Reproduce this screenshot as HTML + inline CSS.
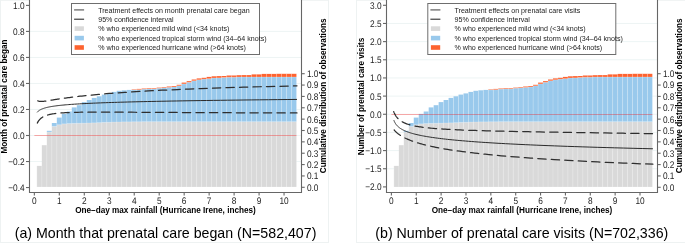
<!DOCTYPE html>
<html><head><meta charset="utf-8"><title>Figure</title>
<style>
svg{will-change:transform;}
html,body{margin:0;padding:0;background:#ffffff;}
body{width:685px;height:243px;overflow:hidden;position:relative;font-family:"Liberation Sans", sans-serif;}
</style></head><body>
<svg width="685" height="243" viewBox="0 0 685 243" style="position:absolute;left:0;top:0" font-family='"Liberation Sans", sans-serif'><rect x="0" y="0" width="685" height="243" fill="#ffffff"/><g stroke="#eef2f2" stroke-width="1" fill="none"><line x1="0.5" y1="0" x2="0.5" y2="243"/><line x1="328.5" y1="0" x2="328.5" y2="243"/><line x1="356.5" y1="0" x2="356.5" y2="243"/><line x1="0" y1="242.5" x2="329" y2="242.5"/><line x1="356" y1="242.5" x2="685" y2="242.5"/><line x1="0" y1="0.3" x2="29" y2="0.3"/><line x1="302" y1="0.3" x2="329" y2="0.3"/><line x1="356" y1="0.3" x2="386" y2="0.3"/><line x1="658" y1="0.3" x2="685" y2="0.3"/></g><line x1="30.0" y1="31.42" x2="301.0" y2="31.42" stroke="#e9f1f1" stroke-width="0.8"/><line x1="30.0" y1="57.44" x2="301.0" y2="57.44" stroke="#e9f1f1" stroke-width="0.8"/><line x1="30.0" y1="83.46" x2="301.0" y2="83.46" stroke="#e9f1f1" stroke-width="0.8"/><line x1="30.0" y1="109.48" x2="301.0" y2="109.48" stroke="#e9f1f1" stroke-width="0.8"/><line x1="30.0" y1="135.50" x2="301.0" y2="135.50" stroke="#e9f1f1" stroke-width="0.8"/><line x1="30.0" y1="161.52" x2="301.0" y2="161.52" stroke="#e9f1f1" stroke-width="0.8"/><rect x="36.85" y="165.90" width="4.994" height="21.00" fill="#d9d9d9"/><rect x="41.84" y="145.20" width="4.994" height="41.70" fill="#d9d9d9"/><rect x="46.84" y="132.10" width="4.994" height="54.80" fill="#d9d9d9"/><rect x="46.84" y="130.80" width="4.994" height="1.30" fill="#99c9ec"/><rect x="51.83" y="126.40" width="4.994" height="60.50" fill="#d9d9d9"/><rect x="51.83" y="123.00" width="4.994" height="3.40" fill="#99c9ec"/><rect x="56.82" y="124.80" width="4.994" height="62.10" fill="#d9d9d9"/><rect x="56.82" y="117.60" width="4.994" height="7.20" fill="#99c9ec"/><rect x="61.82" y="123.90" width="4.994" height="63.00" fill="#d9d9d9"/><rect x="61.82" y="113.90" width="4.994" height="10.00" fill="#99c9ec"/><rect x="66.81" y="123.60" width="4.994" height="63.30" fill="#d9d9d9"/><rect x="66.81" y="111.50" width="4.994" height="12.10" fill="#99c9ec"/><rect x="71.81" y="123.40" width="4.994" height="63.50" fill="#d9d9d9"/><rect x="71.81" y="107.40" width="4.994" height="16.00" fill="#99c9ec"/><rect x="76.80" y="123.30" width="4.994" height="63.60" fill="#d9d9d9"/><rect x="76.80" y="105.20" width="4.994" height="18.10" fill="#99c9ec"/><rect x="81.79" y="123.20" width="4.994" height="63.70" fill="#d9d9d9"/><rect x="81.79" y="102.10" width="4.994" height="21.10" fill="#99c9ec"/><rect x="86.79" y="123.00" width="4.994" height="63.90" fill="#d9d9d9"/><rect x="86.79" y="100.00" width="4.994" height="23.00" fill="#99c9ec"/><rect x="91.78" y="122.90" width="4.994" height="64.00" fill="#d9d9d9"/><rect x="91.78" y="97.90" width="4.994" height="25.00" fill="#99c9ec"/><rect x="96.78" y="122.70" width="4.994" height="64.20" fill="#d9d9d9"/><rect x="96.78" y="96.30" width="4.994" height="26.40" fill="#99c9ec"/><rect x="101.77" y="122.40" width="4.994" height="64.50" fill="#d9d9d9"/><rect x="101.77" y="94.60" width="4.994" height="27.80" fill="#99c9ec"/><rect x="106.76" y="122.30" width="4.994" height="64.60" fill="#d9d9d9"/><rect x="106.76" y="93.40" width="4.994" height="28.90" fill="#99c9ec"/><rect x="111.76" y="122.10" width="4.994" height="64.80" fill="#d9d9d9"/><rect x="111.76" y="91.90" width="4.994" height="30.20" fill="#99c9ec"/><rect x="116.75" y="122.00" width="4.994" height="64.90" fill="#d9d9d9"/><rect x="116.75" y="90.80" width="4.994" height="31.20" fill="#99c9ec"/><rect x="121.75" y="121.90" width="4.994" height="65.00" fill="#d9d9d9"/><rect x="121.75" y="90.30" width="4.994" height="31.60" fill="#99c9ec"/><rect x="126.74" y="121.90" width="4.994" height="65.00" fill="#d9d9d9"/><rect x="126.74" y="89.90" width="4.994" height="32.00" fill="#99c9ec"/><rect x="131.73" y="121.80" width="4.994" height="65.10" fill="#d9d9d9"/><rect x="131.73" y="89.90" width="4.994" height="31.90" fill="#99c9ec"/><rect x="131.73" y="89.40" width="4.994" height="0.50" fill="#fd6330"/><rect x="136.73" y="121.80" width="4.994" height="65.10" fill="#d9d9d9"/><rect x="136.73" y="89.70" width="4.994" height="32.10" fill="#99c9ec"/><rect x="136.73" y="88.90" width="4.994" height="0.80" fill="#fd6330"/><rect x="141.72" y="121.70" width="4.994" height="65.20" fill="#d9d9d9"/><rect x="141.72" y="89.10" width="4.994" height="32.60" fill="#99c9ec"/><rect x="141.72" y="88.50" width="4.994" height="0.60" fill="#fd6330"/><rect x="146.72" y="121.70" width="4.994" height="65.20" fill="#d9d9d9"/><rect x="146.72" y="88.90" width="4.994" height="32.80" fill="#99c9ec"/><rect x="146.72" y="88.20" width="4.994" height="0.70" fill="#fd6330"/><rect x="151.71" y="121.70" width="4.994" height="65.20" fill="#d9d9d9"/><rect x="151.71" y="88.90" width="4.994" height="32.80" fill="#99c9ec"/><rect x="151.71" y="88.20" width="4.994" height="0.70" fill="#fd6330"/><rect x="156.70" y="121.70" width="4.994" height="65.20" fill="#d9d9d9"/><rect x="156.70" y="88.20" width="4.994" height="33.50" fill="#99c9ec"/><rect x="156.70" y="87.60" width="4.994" height="0.60" fill="#fd6330"/><rect x="161.70" y="121.70" width="4.994" height="65.20" fill="#d9d9d9"/><rect x="161.70" y="87.80" width="4.994" height="33.90" fill="#99c9ec"/><rect x="161.70" y="87.10" width="4.994" height="0.70" fill="#fd6330"/><rect x="166.69" y="121.70" width="4.994" height="65.20" fill="#d9d9d9"/><rect x="166.69" y="87.40" width="4.994" height="34.30" fill="#99c9ec"/><rect x="166.69" y="86.50" width="4.994" height="0.90" fill="#fd6330"/><rect x="171.68" y="121.70" width="4.994" height="65.20" fill="#d9d9d9"/><rect x="171.68" y="87.00" width="4.994" height="34.70" fill="#99c9ec"/><rect x="171.68" y="86.10" width="4.994" height="0.90" fill="#fd6330"/><rect x="176.68" y="121.70" width="4.994" height="65.20" fill="#d9d9d9"/><rect x="176.68" y="85.80" width="4.994" height="35.90" fill="#99c9ec"/><rect x="176.68" y="84.80" width="4.994" height="1.00" fill="#fd6330"/><rect x="181.67" y="121.70" width="4.994" height="65.20" fill="#d9d9d9"/><rect x="181.67" y="83.90" width="4.994" height="37.80" fill="#99c9ec"/><rect x="181.67" y="82.60" width="4.994" height="1.30" fill="#fd6330"/><rect x="186.67" y="121.70" width="4.994" height="65.20" fill="#d9d9d9"/><rect x="186.67" y="82.30" width="4.994" height="39.40" fill="#99c9ec"/><rect x="186.67" y="81.10" width="4.994" height="1.20" fill="#fd6330"/><rect x="191.66" y="121.70" width="4.994" height="65.20" fill="#d9d9d9"/><rect x="191.66" y="80.80" width="4.994" height="40.90" fill="#99c9ec"/><rect x="191.66" y="79.50" width="4.994" height="1.30" fill="#fd6330"/><rect x="196.66" y="121.70" width="4.994" height="65.20" fill="#d9d9d9"/><rect x="196.66" y="79.80" width="4.994" height="41.90" fill="#99c9ec"/><rect x="196.66" y="78.40" width="4.994" height="1.40" fill="#fd6330"/><rect x="201.65" y="121.70" width="4.994" height="65.20" fill="#d9d9d9"/><rect x="201.65" y="79.10" width="4.994" height="42.60" fill="#99c9ec"/><rect x="201.65" y="77.80" width="4.994" height="1.30" fill="#fd6330"/><rect x="206.64" y="121.70" width="4.994" height="65.20" fill="#d9d9d9"/><rect x="206.64" y="78.70" width="4.994" height="43.00" fill="#99c9ec"/><rect x="206.64" y="76.90" width="4.994" height="1.80" fill="#fd6330"/><rect x="211.64" y="121.70" width="4.994" height="65.20" fill="#d9d9d9"/><rect x="211.64" y="78.00" width="4.994" height="43.70" fill="#99c9ec"/><rect x="211.64" y="76.30" width="4.994" height="1.70" fill="#fd6330"/><rect x="216.63" y="121.70" width="4.994" height="65.20" fill="#d9d9d9"/><rect x="216.63" y="77.90" width="4.994" height="43.80" fill="#99c9ec"/><rect x="216.63" y="76.10" width="4.994" height="1.80" fill="#fd6330"/><rect x="221.62" y="121.70" width="4.994" height="65.20" fill="#d9d9d9"/><rect x="221.62" y="77.50" width="4.994" height="44.20" fill="#99c9ec"/><rect x="221.62" y="76.00" width="4.994" height="1.50" fill="#fd6330"/><rect x="226.62" y="121.70" width="4.994" height="65.20" fill="#d9d9d9"/><rect x="226.62" y="77.20" width="4.994" height="44.50" fill="#99c9ec"/><rect x="226.62" y="75.50" width="4.994" height="1.70" fill="#fd6330"/><rect x="231.61" y="121.70" width="4.994" height="65.20" fill="#d9d9d9"/><rect x="231.61" y="77.20" width="4.994" height="44.50" fill="#99c9ec"/><rect x="231.61" y="75.50" width="4.994" height="1.70" fill="#fd6330"/><rect x="236.61" y="121.70" width="4.994" height="65.20" fill="#d9d9d9"/><rect x="236.61" y="77.00" width="4.994" height="44.70" fill="#99c9ec"/><rect x="236.61" y="75.20" width="4.994" height="1.80" fill="#fd6330"/><rect x="241.60" y="121.70" width="4.994" height="65.20" fill="#d9d9d9"/><rect x="241.60" y="77.00" width="4.994" height="44.70" fill="#99c9ec"/><rect x="241.60" y="75.10" width="4.994" height="1.90" fill="#fd6330"/><rect x="246.59" y="121.70" width="4.994" height="65.20" fill="#d9d9d9"/><rect x="246.59" y="77.00" width="4.994" height="44.70" fill="#99c9ec"/><rect x="246.59" y="75.10" width="4.994" height="1.90" fill="#fd6330"/><rect x="251.59" y="121.70" width="4.994" height="65.20" fill="#d9d9d9"/><rect x="251.59" y="77.00" width="4.994" height="44.70" fill="#99c9ec"/><rect x="251.59" y="74.40" width="4.994" height="2.60" fill="#fd6330"/><rect x="256.58" y="121.70" width="4.994" height="65.20" fill="#d9d9d9"/><rect x="256.58" y="77.00" width="4.994" height="44.70" fill="#99c9ec"/><rect x="256.58" y="74.40" width="4.994" height="2.60" fill="#fd6330"/><rect x="261.58" y="121.70" width="4.994" height="65.20" fill="#d9d9d9"/><rect x="261.58" y="77.00" width="4.994" height="44.70" fill="#99c9ec"/><rect x="261.58" y="73.90" width="4.994" height="3.10" fill="#fd6330"/><rect x="266.57" y="121.70" width="4.994" height="65.20" fill="#d9d9d9"/><rect x="266.57" y="77.00" width="4.994" height="44.70" fill="#99c9ec"/><rect x="266.57" y="73.90" width="4.994" height="3.10" fill="#fd6330"/><rect x="271.56" y="121.70" width="4.994" height="65.20" fill="#d9d9d9"/><rect x="271.56" y="77.00" width="4.994" height="44.70" fill="#99c9ec"/><rect x="271.56" y="73.90" width="4.994" height="3.10" fill="#fd6330"/><rect x="276.56" y="121.70" width="4.994" height="65.20" fill="#d9d9d9"/><rect x="276.56" y="77.00" width="4.994" height="44.70" fill="#99c9ec"/><rect x="276.56" y="73.80" width="4.994" height="3.20" fill="#fd6330"/><rect x="281.55" y="121.70" width="4.994" height="65.20" fill="#d9d9d9"/><rect x="281.55" y="77.00" width="4.994" height="44.70" fill="#99c9ec"/><rect x="281.55" y="73.80" width="4.994" height="3.20" fill="#fd6330"/><rect x="286.55" y="121.70" width="4.994" height="65.20" fill="#d9d9d9"/><rect x="286.55" y="77.00" width="4.994" height="44.70" fill="#99c9ec"/><rect x="286.55" y="73.80" width="4.994" height="3.20" fill="#fd6330"/><rect x="291.54" y="121.70" width="4.994" height="65.20" fill="#d9d9d9"/><rect x="291.54" y="77.00" width="4.994" height="44.70" fill="#99c9ec"/><rect x="291.54" y="73.80" width="4.994" height="3.20" fill="#fd6330"/><g stroke="#ffffff" stroke-opacity="0.35" stroke-width="0.6"><line x1="36.85" y1="165.90" x2="36.85" y2="186.90"/><line x1="41.84" y1="165.90" x2="41.84" y2="186.90"/><line x1="46.84" y1="145.20" x2="46.84" y2="186.90"/><line x1="51.83" y1="130.80" x2="51.83" y2="186.90"/><line x1="56.82" y1="123.00" x2="56.82" y2="186.90"/><line x1="61.82" y1="117.60" x2="61.82" y2="186.90"/><line x1="66.81" y1="113.90" x2="66.81" y2="186.90"/><line x1="71.81" y1="111.50" x2="71.81" y2="186.90"/><line x1="76.80" y1="107.40" x2="76.80" y2="186.90"/><line x1="81.79" y1="105.20" x2="81.79" y2="186.90"/><line x1="86.79" y1="102.10" x2="86.79" y2="186.90"/><line x1="91.78" y1="100.00" x2="91.78" y2="186.90"/><line x1="96.78" y1="97.90" x2="96.78" y2="186.90"/><line x1="101.77" y1="96.30" x2="101.77" y2="186.90"/><line x1="106.76" y1="94.60" x2="106.76" y2="186.90"/><line x1="111.76" y1="93.40" x2="111.76" y2="186.90"/><line x1="116.75" y1="91.90" x2="116.75" y2="186.90"/><line x1="121.75" y1="90.80" x2="121.75" y2="186.90"/><line x1="126.74" y1="90.30" x2="126.74" y2="186.90"/><line x1="131.73" y1="89.90" x2="131.73" y2="186.90"/><line x1="136.73" y1="89.40" x2="136.73" y2="186.90"/><line x1="141.72" y1="88.90" x2="141.72" y2="186.90"/><line x1="146.72" y1="88.50" x2="146.72" y2="186.90"/><line x1="151.71" y1="88.20" x2="151.71" y2="186.90"/><line x1="156.70" y1="88.20" x2="156.70" y2="186.90"/><line x1="161.70" y1="87.60" x2="161.70" y2="186.90"/><line x1="166.69" y1="87.10" x2="166.69" y2="186.90"/><line x1="171.68" y1="86.50" x2="171.68" y2="186.90"/><line x1="176.68" y1="86.10" x2="176.68" y2="186.90"/><line x1="181.67" y1="84.80" x2="181.67" y2="186.90"/><line x1="186.67" y1="82.60" x2="186.67" y2="186.90"/><line x1="191.66" y1="81.10" x2="191.66" y2="186.90"/><line x1="196.66" y1="79.50" x2="196.66" y2="186.90"/><line x1="201.65" y1="78.40" x2="201.65" y2="186.90"/><line x1="206.64" y1="77.80" x2="206.64" y2="186.90"/><line x1="211.64" y1="76.90" x2="211.64" y2="186.90"/><line x1="216.63" y1="76.30" x2="216.63" y2="186.90"/><line x1="221.62" y1="76.10" x2="221.62" y2="186.90"/><line x1="226.62" y1="76.00" x2="226.62" y2="186.90"/><line x1="231.61" y1="75.50" x2="231.61" y2="186.90"/><line x1="236.61" y1="75.50" x2="236.61" y2="186.90"/><line x1="241.60" y1="75.20" x2="241.60" y2="186.90"/><line x1="246.59" y1="75.10" x2="246.59" y2="186.90"/><line x1="251.59" y1="75.10" x2="251.59" y2="186.90"/><line x1="256.58" y1="74.40" x2="256.58" y2="186.90"/><line x1="261.58" y1="74.40" x2="261.58" y2="186.90"/><line x1="266.57" y1="73.90" x2="266.57" y2="186.90"/><line x1="271.56" y1="73.90" x2="271.56" y2="186.90"/><line x1="276.56" y1="73.90" x2="276.56" y2="186.90"/><line x1="281.55" y1="73.80" x2="281.55" y2="186.90"/><line x1="286.55" y1="73.80" x2="286.55" y2="186.90"/><line x1="291.54" y1="73.80" x2="291.54" y2="186.90"/><line x1="296.54" y1="73.80" x2="296.54" y2="186.90"/><line x1="46.84" y1="132.10" x2="51.83" y2="132.10"/><line x1="51.83" y1="126.40" x2="56.82" y2="126.40"/><line x1="56.82" y1="124.80" x2="61.82" y2="124.80"/><line x1="61.82" y1="123.90" x2="66.81" y2="123.90"/><line x1="66.81" y1="123.60" x2="71.81" y2="123.60"/><line x1="71.81" y1="123.40" x2="76.80" y2="123.40"/><line x1="76.80" y1="123.30" x2="81.79" y2="123.30"/><line x1="81.79" y1="123.20" x2="86.79" y2="123.20"/><line x1="86.79" y1="123.00" x2="91.78" y2="123.00"/><line x1="91.78" y1="122.90" x2="96.78" y2="122.90"/><line x1="96.78" y1="122.70" x2="101.77" y2="122.70"/><line x1="101.77" y1="122.40" x2="106.76" y2="122.40"/><line x1="106.76" y1="122.30" x2="111.76" y2="122.30"/><line x1="111.76" y1="122.10" x2="116.75" y2="122.10"/><line x1="116.75" y1="122.00" x2="121.75" y2="122.00"/><line x1="121.75" y1="121.90" x2="126.74" y2="121.90"/><line x1="126.74" y1="121.90" x2="131.73" y2="121.90"/><line x1="131.73" y1="121.80" x2="136.73" y2="121.80"/><line x1="131.73" y1="89.90" x2="136.73" y2="89.90"/><line x1="136.73" y1="121.80" x2="141.72" y2="121.80"/><line x1="136.73" y1="89.70" x2="141.72" y2="89.70"/><line x1="141.72" y1="121.70" x2="146.72" y2="121.70"/><line x1="141.72" y1="89.10" x2="146.72" y2="89.10"/><line x1="146.72" y1="121.70" x2="151.71" y2="121.70"/><line x1="146.72" y1="88.90" x2="151.71" y2="88.90"/><line x1="151.71" y1="121.70" x2="156.70" y2="121.70"/><line x1="151.71" y1="88.90" x2="156.70" y2="88.90"/><line x1="156.70" y1="121.70" x2="161.70" y2="121.70"/><line x1="156.70" y1="88.20" x2="161.70" y2="88.20"/><line x1="161.70" y1="121.70" x2="166.69" y2="121.70"/><line x1="161.70" y1="87.80" x2="166.69" y2="87.80"/><line x1="166.69" y1="121.70" x2="171.68" y2="121.70"/><line x1="166.69" y1="87.40" x2="171.68" y2="87.40"/><line x1="171.68" y1="121.70" x2="176.68" y2="121.70"/><line x1="171.68" y1="87.00" x2="176.68" y2="87.00"/><line x1="176.68" y1="121.70" x2="181.67" y2="121.70"/><line x1="176.68" y1="85.80" x2="181.67" y2="85.80"/><line x1="181.67" y1="121.70" x2="186.67" y2="121.70"/><line x1="181.67" y1="83.90" x2="186.67" y2="83.90"/><line x1="186.67" y1="121.70" x2="191.66" y2="121.70"/><line x1="186.67" y1="82.30" x2="191.66" y2="82.30"/><line x1="191.66" y1="121.70" x2="196.65" y2="121.70"/><line x1="191.66" y1="80.80" x2="196.65" y2="80.80"/><line x1="196.66" y1="121.70" x2="201.65" y2="121.70"/><line x1="196.66" y1="79.80" x2="201.65" y2="79.80"/><line x1="201.65" y1="121.70" x2="206.64" y2="121.70"/><line x1="201.65" y1="79.10" x2="206.64" y2="79.10"/><line x1="206.64" y1="121.70" x2="211.64" y2="121.70"/><line x1="206.64" y1="78.70" x2="211.64" y2="78.70"/><line x1="211.64" y1="121.70" x2="216.63" y2="121.70"/><line x1="211.64" y1="78.00" x2="216.63" y2="78.00"/><line x1="216.63" y1="121.70" x2="221.62" y2="121.70"/><line x1="216.63" y1="77.90" x2="221.62" y2="77.90"/><line x1="221.62" y1="121.70" x2="226.62" y2="121.70"/><line x1="221.62" y1="77.50" x2="226.62" y2="77.50"/><line x1="226.62" y1="121.70" x2="231.61" y2="121.70"/><line x1="226.62" y1="77.20" x2="231.61" y2="77.20"/><line x1="231.61" y1="121.70" x2="236.61" y2="121.70"/><line x1="231.61" y1="77.20" x2="236.61" y2="77.20"/><line x1="236.61" y1="121.70" x2="241.60" y2="121.70"/><line x1="236.61" y1="77.00" x2="241.60" y2="77.00"/><line x1="241.60" y1="121.70" x2="246.59" y2="121.70"/><line x1="241.60" y1="77.00" x2="246.59" y2="77.00"/><line x1="246.59" y1="121.70" x2="251.59" y2="121.70"/><line x1="246.59" y1="77.00" x2="251.59" y2="77.00"/><line x1="251.59" y1="121.70" x2="256.58" y2="121.70"/><line x1="251.59" y1="77.00" x2="256.58" y2="77.00"/><line x1="256.58" y1="121.70" x2="261.58" y2="121.70"/><line x1="256.58" y1="77.00" x2="261.58" y2="77.00"/><line x1="261.58" y1="121.70" x2="266.57" y2="121.70"/><line x1="261.58" y1="77.00" x2="266.57" y2="77.00"/><line x1="266.57" y1="121.70" x2="271.57" y2="121.70"/><line x1="266.57" y1="77.00" x2="271.57" y2="77.00"/><line x1="271.56" y1="121.70" x2="276.56" y2="121.70"/><line x1="271.56" y1="77.00" x2="276.56" y2="77.00"/><line x1="276.56" y1="121.70" x2="281.55" y2="121.70"/><line x1="276.56" y1="77.00" x2="281.55" y2="77.00"/><line x1="281.55" y1="121.70" x2="286.55" y2="121.70"/><line x1="281.55" y1="77.00" x2="286.55" y2="77.00"/><line x1="286.55" y1="121.70" x2="291.54" y2="121.70"/><line x1="286.55" y1="77.00" x2="291.54" y2="77.00"/><line x1="291.54" y1="121.70" x2="296.54" y2="121.70"/><line x1="291.54" y1="77.00" x2="296.54" y2="77.00"/></g><line x1="34.35" y1="135.50" x2="296.54" y2="135.50" stroke="#ff0000" stroke-opacity="0.32" stroke-width="1.0"/><path d="M37.20,100.48 L37.31,100.56 L37.43,100.63 L37.54,100.71 L37.67,100.78 L37.80,100.85 L37.93,100.91 L38.07,100.97 L38.21,101.03 L38.36,101.08 L38.52,101.13 L38.68,101.18 L38.85,101.22 L39.02,101.26 L39.20,101.29 L39.39,101.33 L39.59,101.35 L39.79,101.38 L40.00,101.40 L40.22,101.41 L40.45,101.43 L40.68,101.43 L40.93,101.44 L41.18,101.44 L41.45,101.43 L41.72,101.42 L42.01,101.41 L42.30,101.40 L42.61,101.37 L42.93,101.35 L43.26,101.32 L43.61,101.29 L43.97,101.25 L44.34,101.21 L44.73,101.16 L45.13,101.11 L45.55,101.06 L45.98,101.00 L46.43,100.93 L46.90,100.87 L47.39,100.80 L47.89,100.72 L48.42,100.64 L48.96,100.56 L49.53,100.47 L50.12,100.38 L50.73,100.28 L51.36,100.18 L52.02,100.07 L52.71,99.97 L53.42,99.85 L54.16,99.74 L54.92,99.62 L55.72,99.49 L56.55,99.36 L57.41,99.23 L58.30,99.09 L59.23,98.95 L60.19,98.81 L61.19,98.66 L62.23,98.51 L63.32,98.36 L64.44,98.20 L65.60,98.04 L66.81,97.87 L68.07,97.70 L69.38,97.53 L70.74,97.35 L72.15,97.17 L73.61,96.99 L75.13,96.81 L76.71,96.62 L78.35,96.43 L80.06,96.24 L81.83,96.04 L83.67,95.84 L85.58,95.64 L87.56,95.43 L89.62,95.23 L91.77,95.02 L93.99,94.81 L96.30,94.59 L98.70,94.38 L101.19,94.16 L103.78,93.94 L106.47,93.71 L109.27,93.49 L112.17,93.27 L115.19,93.04 L118.32,92.81 L121.57,92.58 L124.95,92.35 L128.46,92.12 L132.11,91.88 L135.90,91.65 L139.83,91.42 L143.92,91.18 L148.16,90.94 L152.57,90.71 L157.15,90.47 L161.91,90.23 L166.85,90.00 L171.99,89.76 L177.32,89.52 L182.86,89.29 L188.61,89.05 L194.59,88.81 L200.80,88.58 L207.24,88.35 L213.94,88.11 L220.90,87.88 L228.13,87.65 L235.64,87.42 L243.44,87.20 L251.54,86.97 L259.95,86.75 L268.69,86.52 L277.77,86.31 L287.20,86.09 L297.00,85.87" fill="none" stroke="#2e2e2e" stroke-width="1.25" stroke-dasharray="8.3 5.2" stroke-dashoffset="-0.6" stroke-linecap="round"/><path d="M37.10,123.62 L37.21,123.38 L37.32,123.13 L37.43,122.89 L37.56,122.64 L37.68,122.40 L37.81,122.16 L37.95,121.91 L38.09,121.67 L38.23,121.43 L38.38,121.20 L38.54,120.96 L38.71,120.73 L38.88,120.49 L39.05,120.26 L39.24,120.03 L39.43,119.81 L39.62,119.58 L39.83,119.36 L40.04,119.14 L40.27,118.92 L40.50,118.71 L40.74,118.49 L40.99,118.28 L41.25,118.08 L41.52,117.87 L41.80,117.67 L42.09,117.47 L42.39,117.28 L42.70,117.09 L43.03,116.90 L43.37,116.71 L43.72,116.53 L44.09,116.35 L44.47,116.18 L44.86,116.00 L45.27,115.84 L45.70,115.67 L46.14,115.51 L46.60,115.35 L47.08,115.20 L47.58,115.05 L48.10,114.90 L48.63,114.76 L49.19,114.62 L49.77,114.48 L50.37,114.35 L51.00,114.22 L51.65,114.10 L52.32,113.98 L53.03,113.87 L53.76,113.75 L54.51,113.65 L55.30,113.54 L56.12,113.44 L56.97,113.34 L57.85,113.25 L58.77,113.16 L59.72,113.08 L60.72,113.00 L61.75,112.92 L62.82,112.85 L63.93,112.78 L65.08,112.71 L66.28,112.65 L67.53,112.59 L68.83,112.54 L70.17,112.48 L71.57,112.44 L73.02,112.39 L74.54,112.35 L76.10,112.31 L77.74,112.28 L79.43,112.25 L81.19,112.22 L83.02,112.20 L84.92,112.18 L86.90,112.16 L88.95,112.14 L91.08,112.13 L93.30,112.12 L95.60,112.12 L97.99,112.11 L100.48,112.11 L103.06,112.11 L105.74,112.12 L108.53,112.12 L111.43,112.13 L114.44,112.14 L117.57,112.15 L120.82,112.17 L124.19,112.19 L127.70,112.20 L131.35,112.22 L135.14,112.25 L139.07,112.27 L143.16,112.29 L147.41,112.32 L151.83,112.34 L156.42,112.37 L161.18,112.40 L166.14,112.43 L171.28,112.46 L176.63,112.49 L182.19,112.52 L187.96,112.55 L193.96,112.58 L200.20,112.61 L206.67,112.64 L213.41,112.67 L220.40,112.70 L227.66,112.73 L235.21,112.75 L243.06,112.78 L251.21,112.80 L259.68,112.83 L268.48,112.85 L277.63,112.87 L287.13,112.89 L297.00,112.90" fill="none" stroke="#2e2e2e" stroke-width="1.25" stroke-dasharray="8.3 5.2" stroke-dashoffset="-0.6" stroke-linecap="round"/><path d="M37.10,112.32 L37.21,112.19 L37.32,112.06 L37.43,111.93 L37.56,111.81 L37.68,111.68 L37.81,111.55 L37.95,111.43 L38.09,111.30 L38.23,111.17 L38.38,111.05 L38.54,110.92 L38.71,110.80 L38.88,110.67 L39.05,110.54 L39.24,110.42 L39.43,110.30 L39.62,110.17 L39.83,110.05 L40.04,109.92 L40.27,109.80 L40.50,109.68 L40.74,109.55 L40.99,109.43 L41.25,109.31 L41.52,109.19 L41.80,109.07 L42.09,108.95 L42.39,108.83 L42.70,108.71 L43.03,108.59 L43.37,108.47 L43.72,108.35 L44.09,108.23 L44.47,108.11 L44.86,107.99 L45.27,107.88 L45.70,107.76 L46.14,107.64 L46.60,107.53 L47.08,107.41 L47.58,107.30 L48.10,107.18 L48.63,107.07 L49.19,106.96 L49.77,106.84 L50.37,106.73 L51.00,106.62 L51.65,106.51 L52.32,106.40 L53.03,106.29 L53.76,106.18 L54.51,106.07 L55.30,105.96 L56.12,105.85 L56.97,105.74 L57.85,105.63 L58.77,105.53 L59.72,105.42 L60.72,105.31 L61.75,105.21 L62.82,105.10 L63.93,105.00 L65.08,104.89 L66.28,104.79 L67.53,104.68 L68.83,104.58 L70.17,104.48 L71.57,104.37 L73.02,104.27 L74.54,104.17 L76.10,104.07 L77.74,103.97 L79.43,103.87 L81.19,103.77 L83.02,103.67 L84.92,103.57 L86.90,103.47 L88.95,103.37 L91.08,103.27 L93.30,103.17 L95.60,103.08 L97.99,102.98 L100.48,102.88 L103.06,102.78 L105.74,102.69 L108.53,102.59 L111.43,102.49 L114.44,102.40 L117.57,102.30 L120.82,102.20 L124.19,102.11 L127.70,102.01 L131.35,101.92 L135.14,101.82 L139.07,101.73 L143.16,101.63 L147.41,101.54 L151.83,101.44 L156.42,101.35 L161.18,101.25 L166.14,101.16 L171.28,101.06 L176.63,100.97 L182.19,100.87 L187.96,100.78 L193.96,100.68 L200.20,100.59 L206.67,100.49 L213.41,100.39 L220.40,100.30 L227.66,100.20 L235.21,100.11 L243.06,100.01 L251.21,99.91 L259.68,99.82 L268.48,99.72 L277.63,99.62 L287.13,99.52 L297.00,99.42" fill="none" stroke="#2a2a2a" stroke-width="1.0"/><path d="M29.5,0 L29.5,192.5 L301.5,192.5 L301.5,0" fill="none" stroke="#666666" stroke-width="1.1"/><g stroke="#666666" stroke-width="1.1"><line x1="26.00" y1="5.40" x2="29.5" y2="5.40"/><line x1="26.00" y1="31.42" x2="29.5" y2="31.42"/><line x1="26.00" y1="57.44" x2="29.5" y2="57.44"/><line x1="26.00" y1="83.46" x2="29.5" y2="83.46"/><line x1="26.00" y1="109.48" x2="29.5" y2="109.48"/><line x1="26.00" y1="135.50" x2="29.5" y2="135.50"/><line x1="26.00" y1="161.52" x2="29.5" y2="161.52"/><line x1="26.00" y1="187.54" x2="29.5" y2="187.54"/><line x1="301.5" y1="187.30" x2="304.70" y2="187.30"/><line x1="301.5" y1="175.94" x2="304.70" y2="175.94"/><line x1="301.5" y1="164.58" x2="304.70" y2="164.58"/><line x1="301.5" y1="153.22" x2="304.70" y2="153.22"/><line x1="301.5" y1="141.86" x2="304.70" y2="141.86"/><line x1="301.5" y1="130.50" x2="304.70" y2="130.50"/><line x1="301.5" y1="119.14" x2="304.70" y2="119.14"/><line x1="301.5" y1="107.78" x2="304.70" y2="107.78"/><line x1="301.5" y1="96.42" x2="304.70" y2="96.42"/><line x1="301.5" y1="85.06" x2="304.70" y2="85.06"/><line x1="301.5" y1="73.70" x2="304.70" y2="73.70"/><line x1="34.35" y1="192.5" x2="34.35" y2="195.6"/><line x1="59.32" y1="192.5" x2="59.32" y2="195.6"/><line x1="84.29" y1="192.5" x2="84.29" y2="195.6"/><line x1="109.26" y1="192.5" x2="109.26" y2="195.6"/><line x1="134.23" y1="192.5" x2="134.23" y2="195.6"/><line x1="159.20" y1="192.5" x2="159.20" y2="195.6"/><line x1="184.17" y1="192.5" x2="184.17" y2="195.6"/><line x1="209.14" y1="192.5" x2="209.14" y2="195.6"/><line x1="234.11" y1="192.5" x2="234.11" y2="195.6"/><line x1="259.08" y1="192.5" x2="259.08" y2="195.6"/><line x1="284.05" y1="192.5" x2="284.05" y2="195.6"/></g><g fill="#1e1e1e" font-size="8.3" style="text-rendering:geometricPrecision"><text transform="translate(24.60,8.80) scale(1,1.15)" text-anchor="end">1.0</text><text transform="translate(24.60,34.82) scale(1,1.15)" text-anchor="end">0.8</text><text transform="translate(24.60,60.84) scale(1,1.15)" text-anchor="end">0.6</text><text transform="translate(24.60,86.86) scale(1,1.15)" text-anchor="end">0.4</text><text transform="translate(24.60,112.88) scale(1,1.15)" text-anchor="end">0.2</text><text transform="translate(24.60,138.90) scale(1,1.15)" text-anchor="end">0.0</text><text transform="translate(24.60,164.92) scale(1,1.15)" text-anchor="end">−0.2</text><text transform="translate(24.60,190.94) scale(1,1.15)" text-anchor="end">−0.4</text><text transform="translate(306.90,190.70) scale(1,1.15)">0.0</text><text transform="translate(306.90,179.34) scale(1,1.15)">0.1</text><text transform="translate(306.90,167.98) scale(1,1.15)">0.2</text><text transform="translate(306.90,156.62) scale(1,1.15)">0.3</text><text transform="translate(306.90,145.26) scale(1,1.15)">0.4</text><text transform="translate(306.90,133.90) scale(1,1.15)">0.5</text><text transform="translate(306.90,122.54) scale(1,1.15)">0.6</text><text transform="translate(306.90,111.18) scale(1,1.15)">0.7</text><text transform="translate(306.90,99.82) scale(1,1.15)">0.8</text><text transform="translate(306.90,88.46) scale(1,1.15)">0.9</text><text transform="translate(306.90,77.10) scale(1,1.15)">1.0</text><text transform="translate(34.35,203.5) scale(1,1.15)" text-anchor="middle">0</text><text transform="translate(59.32,203.5) scale(1,1.15)" text-anchor="middle">1</text><text transform="translate(84.29,203.5) scale(1,1.15)" text-anchor="middle">2</text><text transform="translate(109.26,203.5) scale(1,1.15)" text-anchor="middle">3</text><text transform="translate(134.23,203.5) scale(1,1.15)" text-anchor="middle">4</text><text transform="translate(159.20,203.5) scale(1,1.15)" text-anchor="middle">5</text><text transform="translate(184.17,203.5) scale(1,1.15)" text-anchor="middle">6</text><text transform="translate(209.14,203.5) scale(1,1.15)" text-anchor="middle">7</text><text transform="translate(234.11,203.5) scale(1,1.15)" text-anchor="middle">8</text><text transform="translate(259.08,203.5) scale(1,1.15)" text-anchor="middle">9</text><text transform="translate(284.05,203.5) scale(1,1.15)" text-anchor="middle">10</text></g><g fill="#000000" font-size="8.2" font-weight="bold"><text x="165.50" y="213.0" text-anchor="middle">One–day max rainfall (Hurricane Irene, inches)</text><text transform="translate(7.40,96.5) rotate(-90)" text-anchor="middle">Month of prenatal care began</text><text transform="translate(325.90,95.9) rotate(-90)" text-anchor="middle">Cumulative distribution of observations</text></g><g transform="translate(0.0,0)"><rect x="71.5" y="3.5" width="188.0" height="51.0" fill="#ffffff" stroke="#6e6e6e" stroke-width="1"/><line x1="74.1" y1="9.9" x2="84.1" y2="9.9" stroke="#6a6a6a" stroke-width="1.3"/><line x1="74.1" y1="19.2" x2="84.1" y2="19.2" stroke="#1a1a1a" stroke-width="1.0"/><rect x="74.6" y="26.30" width="9.3" height="4.6" fill="#d9d9d9"/><rect x="74.6" y="35.80" width="9.3" height="4.6" fill="#99c9ec"/><rect x="74.6" y="45.20" width="9.3" height="4.6" fill="#fd6330"/><g fill="#222222" font-size="7.1"><text x="98.2" y="12.75">Treatment effects on month prenatal care began</text><text x="98.2" y="22.05">95% confidence interval</text><text x="98.2" y="31.45">% who experienced mild wind (&lt;34 knots)</text><text x="98.2" y="40.95">% who experienced tropical storm wind (34–64 knots)</text><text x="98.2" y="50.35">% who experienced hurricane wind (&gt;64 knots)</text></g><text x="14.7" y="237.9" fill="#000000" font-size="14.2">(a) Month that prenatal care began (N=582,407)</text></g><line x1="387.0" y1="23.46" x2="657.0" y2="23.46" stroke="#e9f1f1" stroke-width="0.8"/><line x1="387.0" y1="41.62" x2="657.0" y2="41.62" stroke="#e9f1f1" stroke-width="0.8"/><line x1="387.0" y1="59.78" x2="657.0" y2="59.78" stroke="#e9f1f1" stroke-width="0.8"/><line x1="387.0" y1="77.94" x2="657.0" y2="77.94" stroke="#e9f1f1" stroke-width="0.8"/><line x1="387.0" y1="96.10" x2="657.0" y2="96.10" stroke="#e9f1f1" stroke-width="0.8"/><line x1="387.0" y1="114.26" x2="657.0" y2="114.26" stroke="#e9f1f1" stroke-width="0.8"/><line x1="387.0" y1="132.42" x2="657.0" y2="132.42" stroke="#e9f1f1" stroke-width="0.8"/><line x1="387.0" y1="150.58" x2="657.0" y2="150.58" stroke="#e9f1f1" stroke-width="0.8"/><line x1="387.0" y1="168.74" x2="657.0" y2="168.74" stroke="#e9f1f1" stroke-width="0.8"/><rect x="393.89" y="165.90" width="4.972" height="21.00" fill="#d9d9d9"/><rect x="398.86" y="145.20" width="4.972" height="41.70" fill="#d9d9d9"/><rect x="403.83" y="132.10" width="4.972" height="54.80" fill="#d9d9d9"/><rect x="403.83" y="130.80" width="4.972" height="1.30" fill="#99c9ec"/><rect x="408.80" y="126.40" width="4.972" height="60.50" fill="#d9d9d9"/><rect x="408.80" y="123.00" width="4.972" height="3.40" fill="#99c9ec"/><rect x="413.77" y="124.80" width="4.972" height="62.10" fill="#d9d9d9"/><rect x="413.77" y="117.60" width="4.972" height="7.20" fill="#99c9ec"/><rect x="418.75" y="123.90" width="4.972" height="63.00" fill="#d9d9d9"/><rect x="418.75" y="113.90" width="4.972" height="10.00" fill="#99c9ec"/><rect x="423.72" y="123.60" width="4.972" height="63.30" fill="#d9d9d9"/><rect x="423.72" y="111.50" width="4.972" height="12.10" fill="#99c9ec"/><rect x="428.69" y="123.40" width="4.972" height="63.50" fill="#d9d9d9"/><rect x="428.69" y="107.40" width="4.972" height="16.00" fill="#99c9ec"/><rect x="433.66" y="123.30" width="4.972" height="63.60" fill="#d9d9d9"/><rect x="433.66" y="105.20" width="4.972" height="18.10" fill="#99c9ec"/><rect x="438.63" y="123.20" width="4.972" height="63.70" fill="#d9d9d9"/><rect x="438.63" y="102.10" width="4.972" height="21.10" fill="#99c9ec"/><rect x="443.61" y="123.00" width="4.972" height="63.90" fill="#d9d9d9"/><rect x="443.61" y="100.00" width="4.972" height="23.00" fill="#99c9ec"/><rect x="448.58" y="122.90" width="4.972" height="64.00" fill="#d9d9d9"/><rect x="448.58" y="97.90" width="4.972" height="25.00" fill="#99c9ec"/><rect x="453.55" y="122.70" width="4.972" height="64.20" fill="#d9d9d9"/><rect x="453.55" y="96.30" width="4.972" height="26.40" fill="#99c9ec"/><rect x="458.52" y="122.40" width="4.972" height="64.50" fill="#d9d9d9"/><rect x="458.52" y="94.60" width="4.972" height="27.80" fill="#99c9ec"/><rect x="463.49" y="122.30" width="4.972" height="64.60" fill="#d9d9d9"/><rect x="463.49" y="93.40" width="4.972" height="28.90" fill="#99c9ec"/><rect x="468.47" y="122.10" width="4.972" height="64.80" fill="#d9d9d9"/><rect x="468.47" y="91.90" width="4.972" height="30.20" fill="#99c9ec"/><rect x="473.44" y="122.00" width="4.972" height="64.90" fill="#d9d9d9"/><rect x="473.44" y="90.80" width="4.972" height="31.20" fill="#99c9ec"/><rect x="478.41" y="121.90" width="4.972" height="65.00" fill="#d9d9d9"/><rect x="478.41" y="90.30" width="4.972" height="31.60" fill="#99c9ec"/><rect x="483.38" y="121.90" width="4.972" height="65.00" fill="#d9d9d9"/><rect x="483.38" y="89.90" width="4.972" height="32.00" fill="#99c9ec"/><rect x="488.35" y="121.80" width="4.972" height="65.10" fill="#d9d9d9"/><rect x="488.35" y="89.90" width="4.972" height="31.90" fill="#99c9ec"/><rect x="488.35" y="89.40" width="4.972" height="0.50" fill="#fd6330"/><rect x="493.33" y="121.80" width="4.972" height="65.10" fill="#d9d9d9"/><rect x="493.33" y="89.70" width="4.972" height="32.10" fill="#99c9ec"/><rect x="493.33" y="88.90" width="4.972" height="0.80" fill="#fd6330"/><rect x="498.30" y="121.70" width="4.972" height="65.20" fill="#d9d9d9"/><rect x="498.30" y="89.10" width="4.972" height="32.60" fill="#99c9ec"/><rect x="498.30" y="88.50" width="4.972" height="0.60" fill="#fd6330"/><rect x="503.27" y="121.70" width="4.972" height="65.20" fill="#d9d9d9"/><rect x="503.27" y="88.90" width="4.972" height="32.80" fill="#99c9ec"/><rect x="503.27" y="88.20" width="4.972" height="0.70" fill="#fd6330"/><rect x="508.24" y="121.70" width="4.972" height="65.20" fill="#d9d9d9"/><rect x="508.24" y="88.90" width="4.972" height="32.80" fill="#99c9ec"/><rect x="508.24" y="88.20" width="4.972" height="0.70" fill="#fd6330"/><rect x="513.21" y="121.70" width="4.972" height="65.20" fill="#d9d9d9"/><rect x="513.21" y="88.20" width="4.972" height="33.50" fill="#99c9ec"/><rect x="513.21" y="87.60" width="4.972" height="0.60" fill="#fd6330"/><rect x="518.19" y="121.70" width="4.972" height="65.20" fill="#d9d9d9"/><rect x="518.19" y="87.80" width="4.972" height="33.90" fill="#99c9ec"/><rect x="518.19" y="87.10" width="4.972" height="0.70" fill="#fd6330"/><rect x="523.16" y="121.70" width="4.972" height="65.20" fill="#d9d9d9"/><rect x="523.16" y="87.40" width="4.972" height="34.30" fill="#99c9ec"/><rect x="523.16" y="86.50" width="4.972" height="0.90" fill="#fd6330"/><rect x="528.13" y="121.70" width="4.972" height="65.20" fill="#d9d9d9"/><rect x="528.13" y="87.00" width="4.972" height="34.70" fill="#99c9ec"/><rect x="528.13" y="86.10" width="4.972" height="0.90" fill="#fd6330"/><rect x="533.10" y="121.70" width="4.972" height="65.20" fill="#d9d9d9"/><rect x="533.10" y="85.80" width="4.972" height="35.90" fill="#99c9ec"/><rect x="533.10" y="84.80" width="4.972" height="1.00" fill="#fd6330"/><rect x="538.07" y="121.70" width="4.972" height="65.20" fill="#d9d9d9"/><rect x="538.07" y="83.90" width="4.972" height="37.80" fill="#99c9ec"/><rect x="538.07" y="82.60" width="4.972" height="1.30" fill="#fd6330"/><rect x="543.05" y="121.70" width="4.972" height="65.20" fill="#d9d9d9"/><rect x="543.05" y="82.30" width="4.972" height="39.40" fill="#99c9ec"/><rect x="543.05" y="81.10" width="4.972" height="1.20" fill="#fd6330"/><rect x="548.02" y="121.70" width="4.972" height="65.20" fill="#d9d9d9"/><rect x="548.02" y="80.80" width="4.972" height="40.90" fill="#99c9ec"/><rect x="548.02" y="79.50" width="4.972" height="1.30" fill="#fd6330"/><rect x="552.99" y="121.70" width="4.972" height="65.20" fill="#d9d9d9"/><rect x="552.99" y="79.80" width="4.972" height="41.90" fill="#99c9ec"/><rect x="552.99" y="78.40" width="4.972" height="1.40" fill="#fd6330"/><rect x="557.96" y="121.70" width="4.972" height="65.20" fill="#d9d9d9"/><rect x="557.96" y="79.10" width="4.972" height="42.60" fill="#99c9ec"/><rect x="557.96" y="77.80" width="4.972" height="1.30" fill="#fd6330"/><rect x="562.93" y="121.70" width="4.972" height="65.20" fill="#d9d9d9"/><rect x="562.93" y="78.70" width="4.972" height="43.00" fill="#99c9ec"/><rect x="562.93" y="76.90" width="4.972" height="1.80" fill="#fd6330"/><rect x="567.91" y="121.70" width="4.972" height="65.20" fill="#d9d9d9"/><rect x="567.91" y="78.00" width="4.972" height="43.70" fill="#99c9ec"/><rect x="567.91" y="76.30" width="4.972" height="1.70" fill="#fd6330"/><rect x="572.88" y="121.70" width="4.972" height="65.20" fill="#d9d9d9"/><rect x="572.88" y="77.90" width="4.972" height="43.80" fill="#99c9ec"/><rect x="572.88" y="76.10" width="4.972" height="1.80" fill="#fd6330"/><rect x="577.85" y="121.70" width="4.972" height="65.20" fill="#d9d9d9"/><rect x="577.85" y="77.50" width="4.972" height="44.20" fill="#99c9ec"/><rect x="577.85" y="76.00" width="4.972" height="1.50" fill="#fd6330"/><rect x="582.82" y="121.70" width="4.972" height="65.20" fill="#d9d9d9"/><rect x="582.82" y="77.20" width="4.972" height="44.50" fill="#99c9ec"/><rect x="582.82" y="75.50" width="4.972" height="1.70" fill="#fd6330"/><rect x="587.79" y="121.70" width="4.972" height="65.20" fill="#d9d9d9"/><rect x="587.79" y="77.20" width="4.972" height="44.50" fill="#99c9ec"/><rect x="587.79" y="75.50" width="4.972" height="1.70" fill="#fd6330"/><rect x="592.77" y="121.70" width="4.972" height="65.20" fill="#d9d9d9"/><rect x="592.77" y="77.00" width="4.972" height="44.70" fill="#99c9ec"/><rect x="592.77" y="75.20" width="4.972" height="1.80" fill="#fd6330"/><rect x="597.74" y="121.70" width="4.972" height="65.20" fill="#d9d9d9"/><rect x="597.74" y="77.00" width="4.972" height="44.70" fill="#99c9ec"/><rect x="597.74" y="75.10" width="4.972" height="1.90" fill="#fd6330"/><rect x="602.71" y="121.70" width="4.972" height="65.20" fill="#d9d9d9"/><rect x="602.71" y="77.00" width="4.972" height="44.70" fill="#99c9ec"/><rect x="602.71" y="75.10" width="4.972" height="1.90" fill="#fd6330"/><rect x="607.68" y="121.70" width="4.972" height="65.20" fill="#d9d9d9"/><rect x="607.68" y="77.00" width="4.972" height="44.70" fill="#99c9ec"/><rect x="607.68" y="74.40" width="4.972" height="2.60" fill="#fd6330"/><rect x="612.65" y="121.70" width="4.972" height="65.20" fill="#d9d9d9"/><rect x="612.65" y="77.00" width="4.972" height="44.70" fill="#99c9ec"/><rect x="612.65" y="74.40" width="4.972" height="2.60" fill="#fd6330"/><rect x="617.63" y="121.70" width="4.972" height="65.20" fill="#d9d9d9"/><rect x="617.63" y="77.00" width="4.972" height="44.70" fill="#99c9ec"/><rect x="617.63" y="73.90" width="4.972" height="3.10" fill="#fd6330"/><rect x="622.60" y="121.70" width="4.972" height="65.20" fill="#d9d9d9"/><rect x="622.60" y="77.00" width="4.972" height="44.70" fill="#99c9ec"/><rect x="622.60" y="73.90" width="4.972" height="3.10" fill="#fd6330"/><rect x="627.57" y="121.70" width="4.972" height="65.20" fill="#d9d9d9"/><rect x="627.57" y="77.00" width="4.972" height="44.70" fill="#99c9ec"/><rect x="627.57" y="73.90" width="4.972" height="3.10" fill="#fd6330"/><rect x="632.54" y="121.70" width="4.972" height="65.20" fill="#d9d9d9"/><rect x="632.54" y="77.00" width="4.972" height="44.70" fill="#99c9ec"/><rect x="632.54" y="73.80" width="4.972" height="3.20" fill="#fd6330"/><rect x="637.51" y="121.70" width="4.972" height="65.20" fill="#d9d9d9"/><rect x="637.51" y="77.00" width="4.972" height="44.70" fill="#99c9ec"/><rect x="637.51" y="73.80" width="4.972" height="3.20" fill="#fd6330"/><rect x="642.49" y="121.70" width="4.972" height="65.20" fill="#d9d9d9"/><rect x="642.49" y="77.00" width="4.972" height="44.70" fill="#99c9ec"/><rect x="642.49" y="73.80" width="4.972" height="3.20" fill="#fd6330"/><rect x="647.46" y="121.70" width="4.972" height="65.20" fill="#d9d9d9"/><rect x="647.46" y="77.00" width="4.972" height="44.70" fill="#99c9ec"/><rect x="647.46" y="73.80" width="4.972" height="3.20" fill="#fd6330"/><g stroke="#ffffff" stroke-opacity="0.35" stroke-width="0.6"><line x1="393.89" y1="165.90" x2="393.89" y2="186.90"/><line x1="398.86" y1="165.90" x2="398.86" y2="186.90"/><line x1="403.83" y1="145.20" x2="403.83" y2="186.90"/><line x1="408.80" y1="130.80" x2="408.80" y2="186.90"/><line x1="413.77" y1="123.00" x2="413.77" y2="186.90"/><line x1="418.75" y1="117.60" x2="418.75" y2="186.90"/><line x1="423.72" y1="113.90" x2="423.72" y2="186.90"/><line x1="428.69" y1="111.50" x2="428.69" y2="186.90"/><line x1="433.66" y1="107.40" x2="433.66" y2="186.90"/><line x1="438.63" y1="105.20" x2="438.63" y2="186.90"/><line x1="443.61" y1="102.10" x2="443.61" y2="186.90"/><line x1="448.58" y1="100.00" x2="448.58" y2="186.90"/><line x1="453.55" y1="97.90" x2="453.55" y2="186.90"/><line x1="458.52" y1="96.30" x2="458.52" y2="186.90"/><line x1="463.49" y1="94.60" x2="463.49" y2="186.90"/><line x1="468.47" y1="93.40" x2="468.47" y2="186.90"/><line x1="473.44" y1="91.90" x2="473.44" y2="186.90"/><line x1="478.41" y1="90.80" x2="478.41" y2="186.90"/><line x1="483.38" y1="90.30" x2="483.38" y2="186.90"/><line x1="488.35" y1="89.90" x2="488.35" y2="186.90"/><line x1="493.33" y1="89.40" x2="493.33" y2="186.90"/><line x1="498.30" y1="88.90" x2="498.30" y2="186.90"/><line x1="503.27" y1="88.50" x2="503.27" y2="186.90"/><line x1="508.24" y1="88.20" x2="508.24" y2="186.90"/><line x1="513.21" y1="88.20" x2="513.21" y2="186.90"/><line x1="518.19" y1="87.60" x2="518.19" y2="186.90"/><line x1="523.16" y1="87.10" x2="523.16" y2="186.90"/><line x1="528.13" y1="86.50" x2="528.13" y2="186.90"/><line x1="533.10" y1="86.10" x2="533.10" y2="186.90"/><line x1="538.07" y1="84.80" x2="538.07" y2="186.90"/><line x1="543.05" y1="82.60" x2="543.05" y2="186.90"/><line x1="548.02" y1="81.10" x2="548.02" y2="186.90"/><line x1="552.99" y1="79.50" x2="552.99" y2="186.90"/><line x1="557.96" y1="78.40" x2="557.96" y2="186.90"/><line x1="562.93" y1="77.80" x2="562.93" y2="186.90"/><line x1="567.91" y1="76.90" x2="567.91" y2="186.90"/><line x1="572.88" y1="76.30" x2="572.88" y2="186.90"/><line x1="577.85" y1="76.10" x2="577.85" y2="186.90"/><line x1="582.82" y1="76.00" x2="582.82" y2="186.90"/><line x1="587.79" y1="75.50" x2="587.79" y2="186.90"/><line x1="592.77" y1="75.50" x2="592.77" y2="186.90"/><line x1="597.74" y1="75.20" x2="597.74" y2="186.90"/><line x1="602.71" y1="75.10" x2="602.71" y2="186.90"/><line x1="607.68" y1="75.10" x2="607.68" y2="186.90"/><line x1="612.65" y1="74.40" x2="612.65" y2="186.90"/><line x1="617.63" y1="74.40" x2="617.63" y2="186.90"/><line x1="622.60" y1="73.90" x2="622.60" y2="186.90"/><line x1="627.57" y1="73.90" x2="627.57" y2="186.90"/><line x1="632.54" y1="73.90" x2="632.54" y2="186.90"/><line x1="637.51" y1="73.80" x2="637.51" y2="186.90"/><line x1="642.49" y1="73.80" x2="642.49" y2="186.90"/><line x1="647.46" y1="73.80" x2="647.46" y2="186.90"/><line x1="652.43" y1="73.80" x2="652.43" y2="186.90"/><line x1="403.83" y1="132.10" x2="408.80" y2="132.10"/><line x1="408.80" y1="126.40" x2="413.77" y2="126.40"/><line x1="413.77" y1="124.80" x2="418.75" y2="124.80"/><line x1="418.75" y1="123.90" x2="423.72" y2="123.90"/><line x1="423.72" y1="123.60" x2="428.69" y2="123.60"/><line x1="428.69" y1="123.40" x2="433.66" y2="123.40"/><line x1="433.66" y1="123.30" x2="438.63" y2="123.30"/><line x1="438.63" y1="123.20" x2="443.61" y2="123.20"/><line x1="443.61" y1="123.00" x2="448.58" y2="123.00"/><line x1="448.58" y1="122.90" x2="453.55" y2="122.90"/><line x1="453.55" y1="122.70" x2="458.52" y2="122.70"/><line x1="458.52" y1="122.40" x2="463.49" y2="122.40"/><line x1="463.49" y1="122.30" x2="468.47" y2="122.30"/><line x1="468.47" y1="122.10" x2="473.44" y2="122.10"/><line x1="473.44" y1="122.00" x2="478.41" y2="122.00"/><line x1="478.41" y1="121.90" x2="483.38" y2="121.90"/><line x1="483.38" y1="121.90" x2="488.35" y2="121.90"/><line x1="488.35" y1="121.80" x2="493.33" y2="121.80"/><line x1="488.35" y1="89.90" x2="493.33" y2="89.90"/><line x1="493.33" y1="121.80" x2="498.30" y2="121.80"/><line x1="493.33" y1="89.70" x2="498.30" y2="89.70"/><line x1="498.30" y1="121.70" x2="503.27" y2="121.70"/><line x1="498.30" y1="89.10" x2="503.27" y2="89.10"/><line x1="503.27" y1="121.70" x2="508.24" y2="121.70"/><line x1="503.27" y1="88.90" x2="508.24" y2="88.90"/><line x1="508.24" y1="121.70" x2="513.21" y2="121.70"/><line x1="508.24" y1="88.90" x2="513.21" y2="88.90"/><line x1="513.21" y1="121.70" x2="518.19" y2="121.70"/><line x1="513.21" y1="88.20" x2="518.19" y2="88.20"/><line x1="518.19" y1="121.70" x2="523.16" y2="121.70"/><line x1="518.19" y1="87.80" x2="523.16" y2="87.80"/><line x1="523.16" y1="121.70" x2="528.13" y2="121.70"/><line x1="523.16" y1="87.40" x2="528.13" y2="87.40"/><line x1="528.13" y1="121.70" x2="533.10" y2="121.70"/><line x1="528.13" y1="87.00" x2="533.10" y2="87.00"/><line x1="533.10" y1="121.70" x2="538.07" y2="121.70"/><line x1="533.10" y1="85.80" x2="538.07" y2="85.80"/><line x1="538.07" y1="121.70" x2="543.05" y2="121.70"/><line x1="538.07" y1="83.90" x2="543.05" y2="83.90"/><line x1="543.05" y1="121.70" x2="548.02" y2="121.70"/><line x1="543.05" y1="82.30" x2="548.02" y2="82.30"/><line x1="548.02" y1="121.70" x2="552.99" y2="121.70"/><line x1="548.02" y1="80.80" x2="552.99" y2="80.80"/><line x1="552.99" y1="121.70" x2="557.96" y2="121.70"/><line x1="552.99" y1="79.80" x2="557.96" y2="79.80"/><line x1="557.96" y1="121.70" x2="562.93" y2="121.70"/><line x1="557.96" y1="79.10" x2="562.93" y2="79.10"/><line x1="562.93" y1="121.70" x2="567.91" y2="121.70"/><line x1="562.93" y1="78.70" x2="567.91" y2="78.70"/><line x1="567.91" y1="121.70" x2="572.88" y2="121.70"/><line x1="567.91" y1="78.00" x2="572.88" y2="78.00"/><line x1="572.88" y1="121.70" x2="577.85" y2="121.70"/><line x1="572.88" y1="77.90" x2="577.85" y2="77.90"/><line x1="577.85" y1="121.70" x2="582.82" y2="121.70"/><line x1="577.85" y1="77.50" x2="582.82" y2="77.50"/><line x1="582.82" y1="121.70" x2="587.79" y2="121.70"/><line x1="582.82" y1="77.20" x2="587.79" y2="77.20"/><line x1="587.79" y1="121.70" x2="592.77" y2="121.70"/><line x1="587.79" y1="77.20" x2="592.77" y2="77.20"/><line x1="592.77" y1="121.70" x2="597.74" y2="121.70"/><line x1="592.77" y1="77.00" x2="597.74" y2="77.00"/><line x1="597.74" y1="121.70" x2="602.71" y2="121.70"/><line x1="597.74" y1="77.00" x2="602.71" y2="77.00"/><line x1="602.71" y1="121.70" x2="607.68" y2="121.70"/><line x1="602.71" y1="77.00" x2="607.68" y2="77.00"/><line x1="607.68" y1="121.70" x2="612.65" y2="121.70"/><line x1="607.68" y1="77.00" x2="612.65" y2="77.00"/><line x1="612.65" y1="121.70" x2="617.63" y2="121.70"/><line x1="612.65" y1="77.00" x2="617.63" y2="77.00"/><line x1="617.63" y1="121.70" x2="622.60" y2="121.70"/><line x1="617.63" y1="77.00" x2="622.60" y2="77.00"/><line x1="622.60" y1="121.70" x2="627.57" y2="121.70"/><line x1="622.60" y1="77.00" x2="627.57" y2="77.00"/><line x1="627.57" y1="121.70" x2="632.54" y2="121.70"/><line x1="627.57" y1="77.00" x2="632.54" y2="77.00"/><line x1="632.54" y1="121.70" x2="637.51" y2="121.70"/><line x1="632.54" y1="77.00" x2="637.51" y2="77.00"/><line x1="637.51" y1="121.70" x2="642.49" y2="121.70"/><line x1="637.51" y1="77.00" x2="642.49" y2="77.00"/><line x1="642.49" y1="121.70" x2="647.46" y2="121.70"/><line x1="642.49" y1="77.00" x2="647.46" y2="77.00"/><line x1="647.46" y1="121.70" x2="652.43" y2="121.70"/><line x1="647.46" y1="77.00" x2="652.43" y2="77.00"/></g><line x1="391.40" y1="114.50" x2="652.43" y2="114.50" stroke="#ff0000" stroke-opacity="0.32" stroke-width="1.0"/><path d="M393.50,111.07 L393.59,111.30 L393.68,111.54 L393.77,111.78 L393.87,112.03 L393.97,112.28 L394.08,112.53 L394.19,112.79 L394.30,113.05 L394.42,113.31 L394.55,113.58 L394.68,113.84 L394.82,114.11 L394.96,114.38 L395.10,114.66 L395.26,114.93 L395.42,115.20 L395.58,115.48 L395.76,115.76 L395.94,116.03 L396.12,116.31 L396.32,116.59 L396.52,116.86 L396.74,117.14 L396.96,117.42 L397.19,117.69 L397.43,117.97 L397.67,118.24 L397.93,118.52 L398.20,118.79 L398.49,119.06 L398.78,119.33 L399.09,119.60 L399.40,119.87 L399.73,120.13 L400.08,120.40 L400.44,120.66 L400.81,120.92 L401.20,121.17 L401.61,121.43 L402.03,121.68 L402.47,121.93 L402.93,122.17 L403.40,122.42 L403.90,122.66 L404.42,122.90 L404.96,123.13 L405.52,123.36 L406.10,123.59 L406.71,123.82 L407.34,124.04 L408.00,124.26 L408.69,124.48 L409.41,124.69 L410.15,124.90 L410.93,125.11 L411.73,125.31 L412.58,125.51 L413.45,125.71 L414.36,125.90 L415.31,126.09 L416.30,126.28 L417.33,126.46 L418.41,126.64 L419.52,126.82 L420.69,126.99 L421.90,127.16 L423.16,127.33 L424.48,127.49 L425.84,127.65 L427.27,127.80 L428.75,127.96 L430.30,128.11 L431.91,128.25 L433.58,128.40 L435.33,128.54 L437.15,128.68 L439.04,128.81 L441.01,128.95 L443.06,129.08 L445.20,129.20 L447.43,129.33 L449.75,129.45 L452.16,129.57 L454.67,129.69 L457.29,129.81 L460.02,129.92 L462.86,130.04 L465.81,130.15 L468.89,130.26 L472.10,130.37 L475.44,130.47 L478.91,130.58 L482.54,130.68 L486.31,130.79 L490.23,130.89 L494.32,130.99 L498.58,131.10 L503.01,131.20 L507.63,131.30 L512.44,131.40 L517.45,131.51 L522.67,131.61 L528.10,131.71 L533.75,131.82 L539.64,131.92 L545.78,132.03 L552.16,132.14 L558.81,132.25 L565.74,132.37 L572.95,132.48 L580.47,132.60 L588.29,132.72 L596.44,132.84 L604.92,132.97 L613.75,133.10 L622.95,133.23 L632.53,133.37 L642.51,133.51 L652.90,133.66" fill="none" stroke="#2e2e2e" stroke-width="1.25" stroke-dasharray="8.3 5.2" stroke-dashoffset="-0.6" stroke-linecap="round"/><path d="M393.80,129.49 L393.90,129.61 L394.00,129.74 L394.10,129.87 L394.21,130.00 L394.32,130.13 L394.44,130.27 L394.56,130.41 L394.69,130.56 L394.82,130.70 L394.96,130.85 L395.10,131.01 L395.25,131.17 L395.41,131.33 L395.57,131.49 L395.74,131.66 L395.91,131.83 L396.09,132.00 L396.28,132.18 L396.48,132.36 L396.68,132.55 L396.89,132.74 L397.11,132.93 L397.34,133.12 L397.58,133.32 L397.83,133.52 L398.09,133.73 L398.36,133.93 L398.64,134.15 L398.93,134.36 L399.23,134.58 L399.55,134.80 L399.87,135.03 L400.21,135.25 L400.57,135.49 L400.94,135.72 L401.32,135.96 L401.72,136.20 L402.13,136.45 L402.57,136.70 L403.01,136.95 L403.48,137.20 L403.97,137.46 L404.47,137.72 L405.00,137.99 L405.55,138.25 L406.11,138.53 L406.71,138.80 L407.32,139.08 L407.96,139.36 L408.63,139.64 L409.32,139.93 L410.04,140.22 L410.79,140.51 L411.57,140.81 L412.38,141.10 L413.22,141.41 L414.10,141.71 L415.01,142.02 L415.96,142.33 L416.95,142.64 L417.98,142.95 L419.05,143.27 L420.16,143.59 L421.31,143.92 L422.52,144.24 L423.77,144.57 L425.07,144.90 L426.42,145.24 L427.83,145.57 L429.30,145.91 L430.82,146.25 L432.41,146.60 L434.05,146.94 L435.77,147.29 L437.55,147.64 L439.41,147.99 L441.34,148.34 L443.35,148.70 L445.44,149.06 L447.61,149.42 L449.87,149.78 L452.22,150.14 L454.66,150.51 L457.21,150.87 L459.85,151.24 L462.61,151.61 L465.47,151.98 L468.45,152.36 L471.55,152.73 L474.77,153.11 L478.12,153.48 L481.61,153.86 L485.23,154.24 L489.01,154.62 L492.93,155.00 L497.01,155.38 L501.26,155.77 L505.68,156.15 L510.27,156.53 L515.05,156.92 L520.02,157.30 L525.19,157.69 L530.57,158.07 L536.17,158.46 L541.99,158.85 L548.04,159.23 L554.34,159.62 L560.89,160.01 L567.71,160.40 L574.80,160.78 L582.17,161.17 L589.84,161.55 L597.82,161.94 L606.12,162.33 L614.75,162.71 L623.73,163.09 L633.08,163.48 L642.79,163.86 L652.90,164.24" fill="none" stroke="#2e2e2e" stroke-width="1.25" stroke-dasharray="8.3 5.2" stroke-dashoffset="-0.6" stroke-linecap="round"/><path d="M393.80,120.09 L393.90,120.35 L394.00,120.62 L394.10,120.88 L394.21,121.15 L394.32,121.41 L394.44,121.67 L394.56,121.92 L394.69,122.18 L394.82,122.44 L394.96,122.69 L395.10,122.94 L395.25,123.20 L395.41,123.45 L395.57,123.70 L395.74,123.95 L395.91,124.19 L396.09,124.44 L396.28,124.69 L396.48,124.93 L396.68,125.18 L396.89,125.42 L397.11,125.66 L397.34,125.91 L397.58,126.15 L397.83,126.39 L398.09,126.63 L398.36,126.87 L398.64,127.11 L398.93,127.35 L399.23,127.59 L399.55,127.82 L399.87,128.06 L400.21,128.30 L400.57,128.53 L400.94,128.77 L401.32,129.01 L401.72,129.24 L402.13,129.48 L402.57,129.71 L403.01,129.95 L403.48,130.18 L403.97,130.42 L404.47,130.65 L405.00,130.89 L405.55,131.12 L406.11,131.35 L406.71,131.59 L407.32,131.82 L407.96,132.06 L408.63,132.29 L409.32,132.52 L410.04,132.76 L410.79,132.99 L411.57,133.22 L412.38,133.46 L413.22,133.69 L414.10,133.93 L415.01,134.16 L415.96,134.39 L416.95,134.63 L417.98,134.86 L419.05,135.10 L420.16,135.33 L421.31,135.57 L422.52,135.80 L423.77,136.04 L425.07,136.27 L426.42,136.51 L427.83,136.75 L429.30,136.98 L430.82,137.22 L432.41,137.46 L434.05,137.69 L435.77,137.93 L437.55,138.17 L439.41,138.40 L441.34,138.64 L443.35,138.88 L445.44,139.12 L447.61,139.36 L449.87,139.60 L452.22,139.84 L454.66,140.07 L457.21,140.31 L459.85,140.55 L462.61,140.79 L465.47,141.03 L468.45,141.27 L471.55,141.52 L474.77,141.76 L478.12,142.00 L481.61,142.24 L485.23,142.48 L489.01,142.72 L492.93,142.96 L497.01,143.21 L501.26,143.45 L505.68,143.69 L510.27,143.93 L515.05,144.17 L520.02,144.42 L525.19,144.66 L530.57,144.90 L536.17,145.15 L541.99,145.39 L548.04,145.63 L554.34,145.87 L560.89,146.12 L567.71,146.36 L574.80,146.60 L582.17,146.85 L589.84,147.09 L597.82,147.33 L606.12,147.57 L614.75,147.82 L623.73,148.06 L633.08,148.30 L642.79,148.54 L652.90,148.79" fill="none" stroke="#2a2a2a" stroke-width="1.0"/><path d="M386.5,0 L386.5,192.5 L657.5,192.5 L657.5,0" fill="none" stroke="#666666" stroke-width="1.1"/><g stroke="#666666" stroke-width="1.1"><line x1="383.00" y1="5.30" x2="386.5" y2="5.30"/><line x1="383.00" y1="23.46" x2="386.5" y2="23.46"/><line x1="383.00" y1="41.62" x2="386.5" y2="41.62"/><line x1="383.00" y1="59.78" x2="386.5" y2="59.78"/><line x1="383.00" y1="77.94" x2="386.5" y2="77.94"/><line x1="383.00" y1="96.10" x2="386.5" y2="96.10"/><line x1="383.00" y1="114.26" x2="386.5" y2="114.26"/><line x1="383.00" y1="132.42" x2="386.5" y2="132.42"/><line x1="383.00" y1="150.58" x2="386.5" y2="150.58"/><line x1="383.00" y1="168.74" x2="386.5" y2="168.74"/><line x1="383.00" y1="186.90" x2="386.5" y2="186.90"/><line x1="657.5" y1="187.30" x2="660.70" y2="187.30"/><line x1="657.5" y1="175.94" x2="660.70" y2="175.94"/><line x1="657.5" y1="164.58" x2="660.70" y2="164.58"/><line x1="657.5" y1="153.22" x2="660.70" y2="153.22"/><line x1="657.5" y1="141.86" x2="660.70" y2="141.86"/><line x1="657.5" y1="130.50" x2="660.70" y2="130.50"/><line x1="657.5" y1="119.14" x2="660.70" y2="119.14"/><line x1="657.5" y1="107.78" x2="660.70" y2="107.78"/><line x1="657.5" y1="96.42" x2="660.70" y2="96.42"/><line x1="657.5" y1="85.06" x2="660.70" y2="85.06"/><line x1="657.5" y1="73.70" x2="660.70" y2="73.70"/><line x1="391.40" y1="192.5" x2="391.40" y2="195.6"/><line x1="416.26" y1="192.5" x2="416.26" y2="195.6"/><line x1="441.12" y1="192.5" x2="441.12" y2="195.6"/><line x1="465.98" y1="192.5" x2="465.98" y2="195.6"/><line x1="490.84" y1="192.5" x2="490.84" y2="195.6"/><line x1="515.70" y1="192.5" x2="515.70" y2="195.6"/><line x1="540.56" y1="192.5" x2="540.56" y2="195.6"/><line x1="565.42" y1="192.5" x2="565.42" y2="195.6"/><line x1="590.28" y1="192.5" x2="590.28" y2="195.6"/><line x1="615.14" y1="192.5" x2="615.14" y2="195.6"/><line x1="640.00" y1="192.5" x2="640.00" y2="195.6"/></g><g fill="#1e1e1e" font-size="8.3" style="text-rendering:geometricPrecision"><text transform="translate(381.60,8.70) scale(1,1.15)" text-anchor="end">3.0</text><text transform="translate(381.60,26.86) scale(1,1.15)" text-anchor="end">2.5</text><text transform="translate(381.60,45.02) scale(1,1.15)" text-anchor="end">2.0</text><text transform="translate(381.60,63.18) scale(1,1.15)" text-anchor="end">1.5</text><text transform="translate(381.60,81.34) scale(1,1.15)" text-anchor="end">1.0</text><text transform="translate(381.60,99.50) scale(1,1.15)" text-anchor="end">0.5</text><text transform="translate(381.60,117.66) scale(1,1.15)" text-anchor="end">0.0</text><text transform="translate(381.60,135.82) scale(1,1.15)" text-anchor="end">−0.5</text><text transform="translate(381.60,153.98) scale(1,1.15)" text-anchor="end">−1.0</text><text transform="translate(381.60,172.14) scale(1,1.15)" text-anchor="end">−1.5</text><text transform="translate(381.60,190.30) scale(1,1.15)" text-anchor="end">−2.0</text><text transform="translate(662.90,190.70) scale(1,1.15)">0.0</text><text transform="translate(662.90,179.34) scale(1,1.15)">0.1</text><text transform="translate(662.90,167.98) scale(1,1.15)">0.2</text><text transform="translate(662.90,156.62) scale(1,1.15)">0.3</text><text transform="translate(662.90,145.26) scale(1,1.15)">0.4</text><text transform="translate(662.90,133.90) scale(1,1.15)">0.5</text><text transform="translate(662.90,122.54) scale(1,1.15)">0.6</text><text transform="translate(662.90,111.18) scale(1,1.15)">0.7</text><text transform="translate(662.90,99.82) scale(1,1.15)">0.8</text><text transform="translate(662.90,88.46) scale(1,1.15)">0.9</text><text transform="translate(662.90,77.10) scale(1,1.15)">1.0</text><text transform="translate(391.40,203.5) scale(1,1.15)" text-anchor="middle">0</text><text transform="translate(416.26,203.5) scale(1,1.15)" text-anchor="middle">1</text><text transform="translate(441.12,203.5) scale(1,1.15)" text-anchor="middle">2</text><text transform="translate(465.98,203.5) scale(1,1.15)" text-anchor="middle">3</text><text transform="translate(490.84,203.5) scale(1,1.15)" text-anchor="middle">4</text><text transform="translate(515.70,203.5) scale(1,1.15)" text-anchor="middle">5</text><text transform="translate(540.56,203.5) scale(1,1.15)" text-anchor="middle">6</text><text transform="translate(565.42,203.5) scale(1,1.15)" text-anchor="middle">7</text><text transform="translate(590.28,203.5) scale(1,1.15)" text-anchor="middle">8</text><text transform="translate(615.14,203.5) scale(1,1.15)" text-anchor="middle">9</text><text transform="translate(640.00,203.5) scale(1,1.15)" text-anchor="middle">10</text></g><g fill="#000000" font-size="8.2" font-weight="bold"><text x="522.00" y="213.0" text-anchor="middle">One–day max rainfall (Hurricane Irene, inches)</text><text transform="translate(363.70,96.5) rotate(-90)" text-anchor="middle">Number of prenatal care visits</text><text transform="translate(682.20,95.9) rotate(-90)" text-anchor="middle">Cumulative distribution of observations</text></g><g transform="translate(356.3,0)"><rect x="71.5" y="3.5" width="188.0" height="51.0" fill="#ffffff" stroke="#6e6e6e" stroke-width="1"/><line x1="74.1" y1="9.9" x2="84.1" y2="9.9" stroke="#6a6a6a" stroke-width="1.3"/><line x1="74.1" y1="19.2" x2="84.1" y2="19.2" stroke="#1a1a1a" stroke-width="1.0"/><rect x="74.6" y="26.30" width="9.3" height="4.6" fill="#d9d9d9"/><rect x="74.6" y="35.80" width="9.3" height="4.6" fill="#99c9ec"/><rect x="74.6" y="45.20" width="9.3" height="4.6" fill="#fd6330"/><g fill="#222222" font-size="7.1"><text x="98.2" y="12.75">Treatment effects on prenatal care visits</text><text x="98.2" y="22.05">95% confidence interval</text><text x="98.2" y="31.45">% who experienced mild wind (&lt;34 knots)</text><text x="98.2" y="40.95">% who experienced tropical storm wind (34–64 knots)</text><text x="98.2" y="50.35">% who experienced hurricane wind (&gt;64 knots)</text></g><text x="19.0" y="237.9" fill="#000000" font-size="14.2">(b) Number of prenatal care visits (N=702,336)</text></g></svg>
</body></html>
